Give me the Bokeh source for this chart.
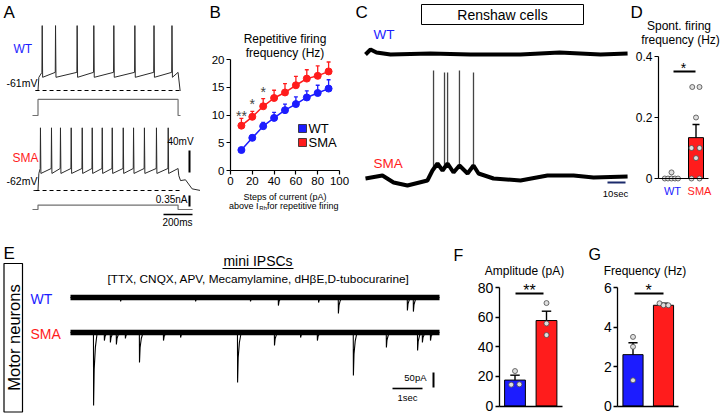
import math
from bokeh.plotting import figure
from bokeh.models import Range1d, Label, FixedTicker, LinearAxis
from bokeh.layouts import column, row
from bokeh.embed import file_html
from bokeh.resources import INLINE

FONT = "Liberation Sans"
BLUE = "#1c1cff"
RED = "#ff1c1c"
TRACE = "#2b2b2b"

# ============================ DATA ============================
# A  current-clamp (time in ms from step onset, potential in mV, current in nA)
a_step_ms = 966
a_wt_window_ms = [-17, 983]
a_sma_window_ms = [-31, 1121]
a_dash_window_ms = [-17, 983]
a_wt_rest_mv = -61
a_sma_rest_mv = -62
a_wt_spike_ms = [29, 121, 270, 385, 523, 668, 800, 924]
a_sma_spike_ms = [17, 93, 155, 229, 305, 374, 443, 512, 588, 659, 734, 817, 898]
a_wt_levels_mv = [57, -37, -28]      # spike peak, after-hyperpolarisation, pre-spike
a_sma_levels_mv = [52, -31, -22]
a_wt_tail_ms = [0, 14]
a_wt_tail_mv = [-28, -61]
a_sma_tail_ms = [5, 17, 51, 97, 155]
a_sma_tail_mv = [-35, -44, -42.5, -59, -62]
a_wt_current_na = 0.51
a_sma_current_na = 0.14
a_wt_current_window_ms = [-38, 983]
a_sma_current_window_ms = [-38, 1066]

# B  repetitive firing frequency
b_steps_pa = [10, 20, 30, 40, 50, 60, 70, 80, 90]
b_wt_hz = [3.7, 5.9, 8.0, 9.5, 10.9, 12.0, 13.2, 14.0, 14.8]
b_wt_sem = [0.3, 0.5, 0.7, 1.0, 1.1, 1.3, 1.2, 1.4, 1.6]
b_sma_hz = [8.1, 9.7, 11.6, 13.1, 14.1, 15.4, 16.6, 17.1, 17.9]
b_sma_sem = [1.3, 1.0, 1.4, 1.4, 1.6, 1.6, 1.6, 1.8, 1.7]
b_star_steps = [10, 20, 30]
b_star_text = ["**", "*", "*"]
b_xticks = [0, 20, 40, 60, 80, 100]
b_yticks = [0, 5, 10, 15, 20]

# C  Renshaw cell recordings (time in s, potential relative to rest in mV)
c_wt_t_s = [0, 2.8, 6.1, 13.9, 36.1, 58.3, 86.1, 107.8, 130.6, 145.6]
c_wt_mv = [0, 2.5, 1, 0, 0.5, 0, 0, 1, 0, 0.5]
c_sma_t_s = [0, 9.4, 15.6, 23.3, 34.4, 37.2, 40, 42.8, 45.6, 48.9, 52.2, 56.7,
             60, 62.8, 71.1, 86.1, 101.1, 115.6, 126.7, 145.6]
c_sma_mv = [0, 1.5, -2, -3.5, -1, 4, 7.5, 4, 7.5, 3, 6.5, 2.5,
            6.5, 2.5, 0, -1, 1.5, 1.5, 0.5, 1]
c_sma_spike_t_s = [37.8, 43.9, 45.6, 52.2, 60.0]
c_sma_spike_base_mv = [4.5, 5, 7.5, 6.5, 6.5]
c_sma_spike_peak_mv = [54, 53, 53, 54, 53]

# D  spontaneous firing frequency (Hz)
d_groups = ["WT", "SMA"]
d_mean = [0.003, 0.134]
d_sem = [0.003, 0.043]
d_wt_pts = [0, 0, 0, 0, 0, 0.02]
d_sma_pts = [0.3, 0.3, 0.2, 0.1, 0.1, 0.067, 0, 0]
d_yticks = [0, 0.2, 0.4]

# E  mini IPSCs (time in s, current in pA)
e_window_s = [0, 12.3]
e_wt_event_s = [1.67, 4.17, 6.0, 6.93, 8.27, 8.93, 11.23, 11.43]
e_wt_event_pa = [13, 13, 13, 27, 17, 53, 43, 47]
e_sma_event_s = [0.77, 1.13, 1.33, 1.53, 1.83, 2.3, 3.1, 3.67, 5.57, 6.8,
                 7.67, 8.23, 9.43, 10.53, 11.57, 11.73, 12.0]
e_sma_event_pa = [243, 27, 33, 40, 20, 100, 27, 17, 167, 43,
                  17, 27, 143, 50, 60, 33, 27]

# F  mIPSC amplitude (pA)
f_mean = [17.5, 57.7]
f_sem = [3.3, 6.3]
f_wt_pts = [23.6, 14.4, 14.6]
f_sma_pts = [69.5, 55.7, 47.9]
f_yticks = [0, 20, 40, 60, 80]

# G  mIPSC frequency (Hz)
g_mean = [2.6, 5.1]
g_sem = [0.6, 0.1]
g_wt_pts = [3.5, 3.0, 1.3]
g_sma_pts = [5.2, 5.1, 5.1]
g_yticks = [0, 2, 4, 6]

# point offsets (layout only)
d_wt_jit = [-0.25, -0.12, 0.02, 0.16, 0.28, 0.02]
d_sma_jit = [-0.15, 0.14, 0.0, -0.18, 0.14, 0.0, -0.18, 0.14]
f_wt_jit = [0.0, -0.12, 0.14]
f_sma_jit = [0.0, 0.0, 0.0]
g_wt_jit = [0.0, 0.0, 0.0]
g_sma_jit = [-0.13, 0.0, 0.16]


# ============================ HELPERS ============================
def span_x(val, at, per_px, left, right):
    return (val - (at - left) * per_px, val + (right - at) * per_px)


def span_y(val, at, per_px, top, bottom):
    return (val - (bottom - at) * per_px, val + (at - top) * per_px)


class Panel:
    """A figure whose plotting frame fills its whole box (page pixel coords)."""

    def __init__(self, box, xr, yr):
        X0, Y0, X1, Y1 = box
        self.L, self.T, self.R, self.B = box
        self.xr, self.yr = xr, yr
        p = figure(width=X1 - X0, height=Y1 - Y0,
                   x_range=Range1d(*xr), y_range=Range1d(*yr),
                   output_backend="svg", toolbar_location=None,
                   x_axis_type=None, y_axis_type=None,
                   min_border_left=0, min_border_right=0,
                   min_border_top=0, min_border_bottom=0)
        p.title.visible = False
        p.outline_line_color = None
        p.border_fill_color = "white"
        p.background_fill_color = "white"
        self.p = p

    def X(self, px):
        return self.xr[0] + (px - self.L) / (self.R - self.L) * (self.xr[1] - self.xr[0])

    def Y(self, py):
        return self.yr[1] - (py - self.T) / (self.B - self.T) * (self.yr[1] - self.yr[0])

    def label(self, px, py, text, size=12, color="black", align="left",
              baseline="middle", angle=0.0):
        self.p.add_layout(Label(x=self.X(px), y=self.Y(py), text=text,
                                text_font=FONT, text_font_size=f"{size}px",
                                text_color=color, text_align=align,
                                text_baseline=baseline, angle=angle))

    def hbar(self, px0, px1, py, width=1.6, color="black"):
        self.p.segment(x0=[self.X(px0)], y0=[self.Y(py)], x1=[self.X(px1)],
                       y1=[self.Y(py)], line_width=width, line_color=color)

    def vbar_(self, px, py0, py1, width=1.6, color="black"):
        self.p.segment(x0=[self.X(px)], y0=[self.Y(py0)], x1=[self.X(px)],
                       y1=[self.Y(py1)], line_width=width, line_color=color)


def add_axes(p, size, x_at, x_bounds, xticks, y_at, y_bounds, yticks,
             tick_w=1.2, overrides=None):
    xa = LinearAxis(fixed_location=x_at, bounds=x_bounds, ticker=FixedTicker(ticks=xticks))
    ya = LinearAxis(fixed_location=y_at, bounds=y_bounds, ticker=FixedTicker(ticks=yticks))
    for ax in (xa, ya):
        ax.axis_line_width = tick_w
        ax.axis_line_color = "black"
        ax.major_tick_line_width = tick_w
        ax.major_tick_line_color = "black"
        ax.major_tick_out = 4
        ax.major_tick_in = 0
        ax.minor_tick_line_color = None
        ax.major_label_text_font = FONT
        ax.major_label_text_font_size = size
        ax.major_label_text_color = "black"
        ax.major_label_standoff = 2
    if not xticks:
        xa.major_tick_out = 0
    if overrides:
        ya.major_label_overrides = overrides
    p.add_layout(xa, "below")
    p.add_layout(ya, "left")


def firing(window, rest, spikes, levels, step_end, tail_t, tail_v):
    peak, ahp, pre = levels
    t = [window[0], 0, 6]
    v = [rest, rest, ahp]
    for s in spikes:
        t += [s - 2, s, s + 3]
        v += [pre, peak, ahp]
    t.append(step_end)
    v.append(pre)
    t += [step_end + d for d in tail_t]
    v += list(tail_v)
    t.append(window[1])
    v.append(rest)
    return t, v


def step(window, amp, end):
    return [window[0], 0, 0, end, end, window[1]], [0, 0, amp, amp, 0, 0]


def ipsc(window, ev_t, ev_a):
    t, v = [window[0]], [0]
    for et, ea in zip(ev_t, ev_a):
        t += [et - 0.005, et, et + 0.02, et + 0.06, et + 0.12]
        v += [0, -ea, -ea * 0.5, -ea * 0.2, 0]
    t.append(window[1])
    v.append(0)
    return t, v


def bar_panel(P, means, sems, wt_pts, sma_pts, wt_jit, sma_jit, width, cap):
    p = P.p
    xs = [1, 2]
    p.vbar(x=xs, top=means, width=width, bottom=0, fill_color=[BLUE, RED],
           line_color="black", line_width=1)
    tops = [m + s for m, s in zip(means, sems)]
    p.segment(x0=xs, y0=means, x1=xs, y1=tops, line_color="black", line_width=1.4)
    p.segment(x0=[x - cap for x in xs], y0=tops, x1=[x + cap for x in xs], y1=tops,
              line_color="black", line_width=1.4)
    px = [1 + j for j in wt_jit] + [2 + j for j in sma_jit]
    py = list(wt_pts) + list(sma_pts)
    p.scatter(x=px, y=py, size=5, marker="circle", fill_color="#dedede",
              line_color="#4a4a4a", line_width=0.8)


# ============================ PANEL A ============================
ms_px = 200 / 29
mv_px = 40 / 22
na_px = 0.35 / 11
A = Panel((0, 0, 200, 230), span_x(0, 37.5, ms_px, 0, 200),
          span_y(a_wt_rest_mv, 90, mv_px, 0, 230))
pa = A.p
pa.extra_y_ranges = {
    "sma_v": Range1d(*span_y(a_sma_rest_mv, 190, mv_px, 0, 230)),
    "wt_i": Range1d(*span_y(0, 115, na_px, 0, 230)),
    "sma_i": Range1d(*span_y(0, 209, na_px, 0, 230)),
}
t, v = firing(a_wt_window_ms, a_wt_rest_mv, a_wt_spike_ms, a_wt_levels_mv,
              a_step_ms, a_wt_tail_ms, a_wt_tail_mv)
pa.line(t, v, line_color=TRACE, line_width=1)
t, v = firing(a_sma_window_ms, a_sma_rest_mv, a_sma_spike_ms, a_sma_levels_mv,
              a_step_ms, a_sma_tail_ms, a_sma_tail_mv)
pa.line(t, v, line_color=TRACE, line_width=1, y_range_name="sma_v")
pa.line(a_dash_window_ms, [a_wt_rest_mv] * 2, line_color="black", line_width=1,
        line_dash="4 3")
pa.line(a_dash_window_ms, [a_sma_rest_mv] * 2, line_color="black", line_width=1,
        line_dash="4 3", y_range_name="sma_v")
t, i = step(a_wt_current_window_ms, a_wt_current_na, a_step_ms)
pa.line(t, i, line_color="#707070", line_width=1.2, y_range_name="wt_i")
t, i = step(a_sma_current_window_ms, a_sma_current_na, a_step_ms)
pa.line(t, i, line_color="#707070", line_width=1.2, y_range_name="sma_i")
A.vbar_(189, 150, 172, width=2)
A.vbar_(189, 195, 206, width=2)
A.hbar(163, 192, 214, width=1.6)
A.label(3, 12, "A", size=17)
A.label(13, 48, "WT", size=12, color=BLUE)
A.label(6, 82, "-61mV", size=10.5)
A.label(12, 157, "SMA", size=12, color=RED)
A.label(6, 180, "-62mV", size=10.5)
A.label(180, 141, "40mV", size=10, align="center")
A.label(187, 199, "0.35nA", size=10, align="right")
A.label(177, 222, "200ms", size=10, align="center")

# ============================ PANEL B ============================
B = Panel((200, 0, 355, 230), span_x(0, 230, 100 / 109, 200, 355),
          span_y(0, 170, 20 / 110.7, 0, 230))
pb = B.p
add_axes(pb, "11.5px", 0, (0, 100), b_xticks, 0, (0, 20), b_yticks)
for ys, es, col in ((b_wt_hz, b_wt_sem, BLUE), (b_sma_hz, b_sma_sem, RED)):
    tops = [y + e for y, e in zip(ys, es)]
    pb.segment(x0=b_steps_pa, y0=ys, x1=b_steps_pa, y1=tops, line_color=col, line_width=1.3)
    pb.segment(x0=[x - 1.8 for x in b_steps_pa], y0=tops, x1=[x + 1.8 for x in b_steps_pa],
               y1=tops, line_color=col, line_width=1.3)
    pb.line(b_steps_pa, ys, line_color=col, line_width=1.5)
    pb.scatter(b_steps_pa, ys, size=7, marker="circle", fill_color=col, line_color=col)
for xstep, txt, py in zip(b_star_steps, b_star_text, [115, 103, 91]):
    pb.add_layout(Label(x=xstep, y=B.Y(py), text=txt, text_font=FONT, text_font_size="14px",
                        text_align="center", text_baseline="alphabetic"))
pb.scatter([B.X(302), B.X(302)], [B.Y(128), B.Y(142)], marker="square", size=8,
           fill_color=[BLUE, RED], line_color="#222222", line_width=0.8)
B.label(308, 128, "WT", size=13)
B.label(308, 142, "SMA", size=13)
B.label(209, 12, "B", size=17)
B.label(284.5, 38, "Repetitive firing", size=12, align="center")
B.label(284.5, 52, "frequency (Hz)", size=12, align="center")
B.label(284.5, 196, "Steps of current (pA)", size=9, align="center")
B.label(258, 205, "above I", size=9, align="right")
B.label(258.8, 207.5, "Rh", size=6)
B.label(266.5, 205, " for repetitive firing", size=9)

# ============================ PANEL C ============================
s_px = 10 / 18
C = Panel((355, 0, 630, 230), span_x(0, 365, s_px, 355, 630), span_y(0, 54, 0.5, 0, 230))
pc = C.p
pc.extra_y_ranges = {"sma": Range1d(*span_y(0, 178, 0.5, 0, 230))}
pc.line(c_wt_t_s, c_wt_mv, line_color="black", line_width=4)
pc.segment(x0=c_sma_spike_t_s, y0=c_sma_spike_base_mv, x1=c_sma_spike_t_s,
           y1=c_sma_spike_peak_mv, line_color="#444444", line_width=1.3, y_range_name="sma")
pc.line(c_sma_t_s, c_sma_mv, line_color="black", line_width=4, y_range_name="sma")
pc.quad(left=[C.X(421)], right=[C.X(583)], bottom=[C.Y(24)], top=[C.Y(4)],
        fill_color=None, line_color="black", line_width=1)
C.label(502, 14.5, "Renshaw cells", size=14, align="center")
C.label(355, 12, "C", size=17)
C.label(373, 34, "WT", size=13.5, color=BLUE)
C.label(373, 163, "SMA", size=13.5, color=RED)
C.hbar(607, 625, 182, width=2, color="#1b2a6b")
C.label(615, 193, "10sec", size=9.5, align="center")

# ============================ PANEL D ============================
D = Panel((630, 0, 720, 230), span_x(1, 670.5, 1 / 25, 630, 720),
          span_y(0, 178, 0.4 / 122, 0, 230))
add_axes(D.p, "12px", 0, (0.5, 2.5), [], 0.5, (0, 0.4), d_yticks, overrides={0: "0"})
bar_panel(D, d_mean, d_sem, d_wt_pts, d_sma_pts, d_wt_jit, d_sma_jit, 0.6, 0.14)
D.hbar(673, 695, 71, width=2)
D.label(683, 67, "*", size=14, align="center", baseline="alphabetic")
D.label(630, 12, "D", size=17)
D.label(678.5, 25, "Spont. firing", size=12, align="center")
D.label(680, 39, "frequency (Hz)", size=12, align="center")
D.label(672, 190, d_groups[0], size=11, color=BLUE, align="center")
D.label(699, 190, d_groups[1], size=11, color=RED, align="center")

# ============================ PANEL E ============================
pa_px = 50 / 15
E = Panel((0, 230, 450, 414), span_x(0, 70, 1 / 30, 0, 450), span_y(0, 297, pa_px, 230, 414))
pe = E.p
pe.extra_y_ranges = {"sma": Range1d(*span_y(0, 332, pa_px, 230, 414))}
t, v = ipsc(e_window_s, e_wt_event_s, e_wt_event_pa)
pe.line(t, v, line_color="black", line_width=1.1)
pe.line(e_window_s, [0, 0], line_color="black", line_width=5.5)
t, v = ipsc(e_window_s, e_sma_event_s, e_sma_event_pa)
pe.line(t, v, line_color="black", line_width=1.1, y_range_name="sma")
pe.line(e_window_s, [0, 0], line_color="black", line_width=5.5, y_range_name="sma")
pe.quad(left=[E.X(3.5)], right=[E.X(22)], bottom=[E.Y(411.5)], top=[E.Y(263)],
        fill_color=None, line_color="black", line_width=1.2)
E.label(13, 337, "Motor neurons", size=16.5, align="center", angle=math.pi / 2)
E.label(3, 253, "E", size=17)
E.label(257.5, 260, "mini IPSCs", size=14, align="center")
E.hbar(222, 293, 268, width=1.2)
E.label(258, 278, "[TTX, CNQX, APV, Mecamylamine, dH\u03b2E,D-tubocurarine]",
        size=11.8, align="center")
E.label(30, 298, "WT", size=14, color=BLUE)
E.label(30, 333, "SMA", size=14, color=RED)
E.vbar_(433, 372, 387, width=2)
E.label(426, 377, "50pA", size=9.5, align="right")
E.hbar(392, 422, 388, width=1.6)
E.label(407, 397, "1sec", size=9.5, align="center")

# ============================ PANEL F ============================
F = Panel((450, 230, 580, 414), span_x(1, 514.5, 1 / 31.5, 450, 580),
          span_y(0, 405.5, 80 / 118.5, 230, 414))
add_axes(F.p, "14px", 0, (0.5, 2.5), [], 0.5, (0, 80), f_yticks, tick_w=1.3)
bar_panel(F, f_mean, f_sem, f_wt_pts, f_sma_pts, f_wt_jit, f_sma_jit, 0.66, 0.15)
F.hbar(515, 543, 293, width=2)
F.label(529, 290, "**", size=16, align="center", baseline="alphabetic")
F.label(453, 255, "F", size=16)
F.label(524, 270, "Amplitude (pA)", size=12, align="center")

# ============================ PANEL G ============================
G = Panel((580, 230, 720, 414), span_x(1, 632.5, 1 / 30.5, 580, 720),
          span_y(0, 405.5, 6 / 118.5, 230, 414))
add_axes(G.p, "14px", 0, (0.5, 2.5), [], 0.5, (0, 6), g_yticks, tick_w=1.3)
bar_panel(G, g_mean, g_sem, g_wt_pts, g_sma_pts, g_wt_jit, g_sma_jit, 0.66, 0.15)
G.hbar(634, 663, 293, width=2)
G.label(648, 290, "*", size=16, align="center", baseline="alphabetic")
G.label(588, 254, "G", size=16)
G.label(644.5, 270, "Frequency (Hz)", size=12, align="center")

layout = column(row(A.p, B.p, C.p, D.p), row(E.p, F.p, G.p))
open("out.html", "w").write(file_html(layout, INLINE))
